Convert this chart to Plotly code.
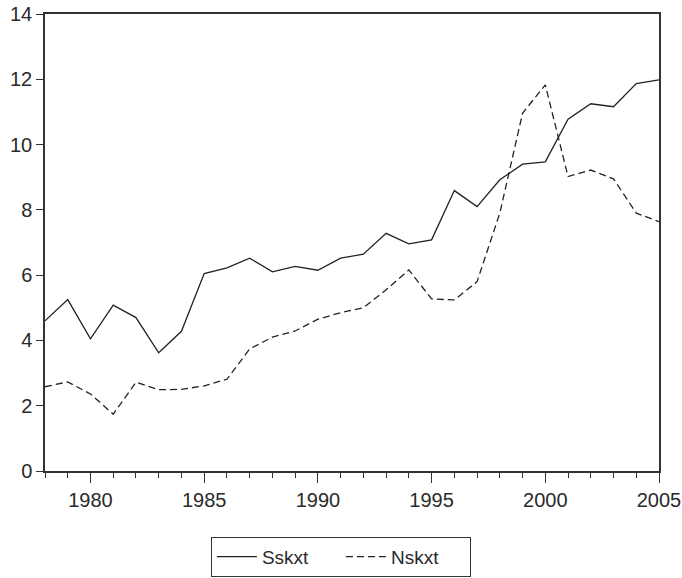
import plotly.graph_objects as go

years = list(range(1978, 2006))
sskxt = [4.60, 5.25, 4.05, 5.08, 4.70, 3.62, 4.28, 6.05, 6.22, 6.52,
         6.10, 6.27, 6.15, 6.52, 6.64, 7.28, 6.96, 7.08, 8.59, 8.10,
         8.92, 9.40, 9.47, 10.78, 11.25, 11.16, 11.87, 11.98]
nskxt = [2.58, 2.73, 2.36, 1.74, 2.72, 2.49, 2.50, 2.61, 2.81, 3.74,
         4.10, 4.29, 4.65, 4.85, 5.00, 5.55, 6.16, 5.27, 5.24, 5.80,
         7.90, 10.96, 11.83, 9.02, 9.22, 8.95, 7.90, 7.64]

x_ticks = [1980, 1985, 1990, 1995, 2000, 2005]
y_ticks = [0, 2, 4, 6, 8, 10, 12, 14]

line_col = "#222222"
axis_col = "#333333"
font = dict(family="Liberation Sans, Arial, sans-serif", size=20, color="#2a2a2a")
legend_font = dict(family="Liberation Sans, Arial, sans-serif", size=19, color="#2a2a2a")

fig = go.Figure()
fig.add_trace(go.Scatter(x=years, y=sskxt, mode="lines", name="Sskxt",
                         line=dict(color=line_col, width=1.3)))
fig.add_trace(go.Scatter(x=years, y=nskxt, mode="lines", name="Nskxt",
                         line=dict(color=line_col, width=1.3, dash="7px,4px")))

fig.update_layout(
    width=682, height=578,
    margin=dict(l=45, r=23, t=14, b=107, autoexpand=False),
    paper_bgcolor="white", plot_bgcolor="white",
    font=font,
    showlegend=True,
    legend=dict(orientation="h", x=0.482, xanchor="center", y=-0.144, yanchor="top",
                bordercolor=axis_col, borderwidth=1, font=legend_font,
                itemwidth=40, entrywidth=74, entrywidthmode="pixels",
                tracegroupgap=0),
)
fig.update_xaxes(range=[1978, 2005], tickvals=x_ticks, ticks="outside", ticklen=10,
                 tickwidth=1, tickcolor=axis_col, ticklabeloverflow="allow",
                 automargin=False,
                 minor=dict(dtick=1, tick0=1978, ticks="outside", ticklen=5,
                            tickwidth=1, tickcolor=axis_col, showgrid=False),
                 showline=True, linecolor=axis_col, linewidth=1.5, mirror=True,
                 showgrid=False, zeroline=False, tickfont=font)
fig.update_yaxes(range=[0, 14], tickvals=y_ticks, ticks="outside", ticklen=7,
                 tickwidth=1, tickcolor=axis_col, automargin=False,
                 showline=True, linecolor=axis_col, linewidth=1.5, mirror=True,
                 showgrid=False, zeroline=False, tickfont=font)

fig.write_html("out.html", config={"displayModeBar": False},
               post_script="document.body.style.margin='0';document.body.style.overflow='hidden';")
